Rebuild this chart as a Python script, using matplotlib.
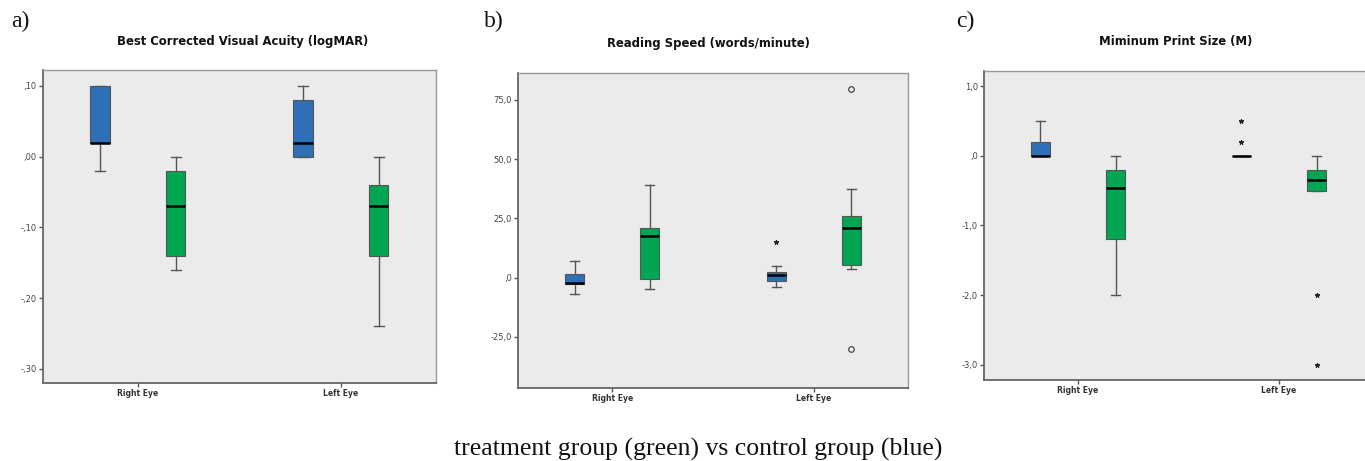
import matplotlib
matplotlib.use("Agg")
import matplotlib.pyplot as plt

# categories and groups
categories = ["Right Eye", "Left Eye"]
groups = ["control", "treatment"]

# panel a: Best Corrected Visual Acuity (logMAR), order: RE control, RE treatment, LE control, LE treatment
bcva_whislo = [-0.02, -0.16, 0.00, -0.24]
bcva_q1 = [0.02, -0.14, 0.00, -0.14]
bcva_med = [0.02, -0.07, 0.02, -0.07]
bcva_q3 = [0.10, -0.02, 0.08, -0.04]
bcva_whishi = [0.10, 0.00, 0.10, 0.00]
bcva_out_pos = []
bcva_out_val = []
bcva_out_mark = []

# panel b: Reading Speed (words/minute)
rs_whislo = [-7.0, -4.8, -4.1, 3.5]
rs_q1 = [-2.5, -0.6, -1.6, 5.2]
rs_med = [-2.1, 17.4, 1.0, 20.8]
rs_q3 = [1.4, 20.8, 2.5, 26.1]
rs_whishi = [6.9, 39.0, 4.8, 37.3]
rs_out_pos = [2, 3, 3]
rs_out_val = [15.0, 79.5, -30.0]
rs_out_mark = ["*", "o", "o"]

# panel c: Minimum Print Size (M)
mps_whislo = [0.0, -2.0, 0.0, -0.5]
mps_q1 = [0.0, -1.2, 0.0, -0.5]
mps_med = [0.0, -0.47, 0.0, -0.35]
mps_q3 = [0.2, -0.2, 0.0, -0.2]
mps_whishi = [0.5, 0.0, 0.0, 0.0]
mps_out_pos = [2, 2, 3, 3]
mps_out_val = [0.5, 0.2, -2.0, -3.0]
mps_out_mark = ["*", "*", "*", "*"]

titles = ["Best Corrected Visual Acuity (logMAR)", "Reading Speed (words/minute)", "Miminum Print Size (M)"]
panel_letters = ["a)", "b)", "c)"]
yticks_a = [0.10, 0.00, -0.10, -0.20, -0.30]
yticklabels_a = [",10", ",00", "-,10", "-,20", "-,30"]
yticks_b = [75, 50, 25, 0, -25]
yticklabels_b = ["75,0", "50,0", "25,0", ",0", "-25,0"]
yticks_c = [1.0, 0.0, -1.0, -2.0, -3.0]
yticklabels_c = ["1,0", ",0", "-1,0", "-2,0", "-3,0"]

BLUE = "#2F6FB7"
GREEN = "#00A651"
BG = "#EBEBEB"
EDGE = "#555555"

offset = 0.187
positions = [0 - offset, 0 + offset, 1 - offset, 1 + offset]
box_colors = [BLUE, GREEN, BLUE, GREEN]


def draw_panel(ax, whislo, q1, med, q3, whishi, out_pos, out_val, out_mark,
               yticks, yticklabels, ylim):
    stats = []
    for i in range(4):
        stats.append({"whislo": whislo[i], "q1": q1[i], "med": med[i],
                      "q3": q3[i], "whishi": whishi[i], "fliers": []})
    bp = ax.bxp(stats, positions=positions, widths=0.094, capwidths=0.045,
                patch_artist=True, showfliers=False,
                boxprops=dict(edgecolor=EDGE, linewidth=0.8),
                whiskerprops=dict(color=EDGE, linewidth=1.0),
                capprops=dict(color=EDGE, linewidth=1.0),
                medianprops=dict(color="black", linewidth=1.8))
    for patch, c in zip(bp["boxes"], box_colors):
        patch.set_facecolor(c)
    for p, v, m in zip(out_pos, out_val, out_mark):
        if m == "o":
            ax.plot(positions[p], v, marker="o", markersize=4, markerfacecolor="none",
                    markeredgecolor="#333333", markeredgewidth=0.8)
        else:
            ax.plot(positions[p], v, marker=(5, 2, 0), markersize=3.5,
                    color="#222222", markeredgewidth=0.8)
    ax.set_facecolor(BG)
    ax.set_xlim(-0.468, 1.468)
    ax.set_ylim(*ylim)
    ax.set_xticks([0, 1])
    ax.set_xticklabels(categories, fontsize=5.5, color="#333333", fontweight="bold")
    ax.set_yticks(yticks)
    ax.set_yticklabels(yticklabels, fontsize=6, color="#444444")
    ax.tick_params(axis="both", length=3, width=1, color="#555555", pad=1.5)
    for side in ["top", "right"]:
        ax.spines[side].set_color("#999999")
        ax.spines[side].set_linewidth(1.0)
    for side in ["left", "bottom"]:
        ax.spines[side].set_color("#666666")
        ax.spines[side].set_linewidth(1.3)


fig = plt.figure(figsize=(13.65, 4.61), dpi=100)

ax_a = fig.add_axes([0.0315, 0.1692, 0.2879, 0.679])
draw_panel(ax_a, bcva_whislo, bcva_q1, bcva_med, bcva_q3, bcva_whishi,
           bcva_out_pos, bcva_out_val, bcva_out_mark,
           yticks_a, yticklabels_a, (-0.32, 0.1226))

ax_b = fig.add_axes([0.3795, 0.1584, 0.2857, 0.6833])
draw_panel(ax_b, rs_whislo, rs_q1, rs_med, rs_q3, rs_whishi,
           rs_out_pos, rs_out_val, rs_out_mark,
           yticks_b, yticklabels_b, (-46.6, 86.4))

ax_c = fig.add_axes([0.7209, 0.1757, 0.285, 0.670])
draw_panel(ax_c, mps_whislo, mps_q1, mps_med, mps_q3, mps_whishi,
           mps_out_pos, mps_out_val, mps_out_mark,
           yticks_c, yticklabels_c, (-3.22, 1.215))

# titles and panel letters (pixel positions converted to figure fractions)
title_x = [243, 708, 1176]
title_y = [42, 44, 42]
letter_x = [11, 484, 956]
for i in range(3):
    fig.text(title_x[i] / 1365, 1 - title_y[i] / 461, titles[i], ha="center", va="center",
             fontsize=8.4, fontweight="bold", color="#111111")
    fig.text(letter_x[i] / 1365, 1 - 21 / 461, panel_letters[i], ha="left", va="center",
             fontsize=17, family="Liberation Serif", color="#111111")

fig.text(698 / 1365, 1 - 449 / 461, "treatment group (green) vs control group (blue)",
         ha="center", va="center", fontsize=18.5, family="Liberation Serif", color="#111111")

fig.savefig("out.png", dpi=100)
